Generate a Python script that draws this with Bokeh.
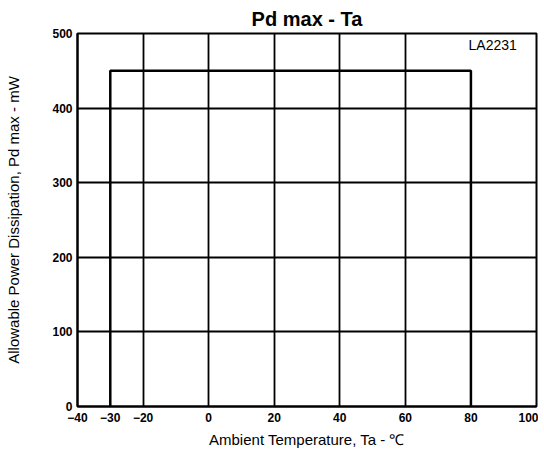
from bokeh.plotting import figure
from bokeh.models import FixedTicker, Range1d, Label
from bokeh.embed import file_html
from bokeh.resources import INLINE

# Data
ta = [-30, -30, 80, 80]
pd_max = [0, 450, 450, 0]
x_ticks = [-40, -30, -20, 0, 20, 40, 60, 80, 100]
y_ticks = [0, 100, 200, 300, 400, 500]
x_grid = [-20, 0, 20, 40, 60]
y_grid = [100, 200, 300, 400]
title_text = "Pd max - Ta"
device = "LA2231"
x_label = "Ambient Temperature, Ta - \u2103"
y_label = "Allowable Power Dissipation, Pd max - mW"

FONT = "Liberation Sans"

p = figure(width=538, height=450, output_backend="svg", toolbar_location=None,
           x_range=Range1d(-40, 100), y_range=Range1d(0, 500),
           min_border_left=77, min_border_right=2, min_border_top=33, min_border_bottom=44,
           title=title_text)
p.background_fill_color = "white"
p.border_fill_color = "white"
p.outline_line_color = "black"
p.outline_line_width = 2

p.title.align = "center"
p.title.text_font = FONT
p.title.text_font_size = "20px"
p.title.text_font_style = "bold"
p.title.text_color = "black"
p.title.standoff = 7
p.title.offset = 0

for ax in (p.xaxis[0], p.yaxis[0]):
    ax.major_tick_out = 0
    ax.major_tick_in = 0
    ax.minor_tick_out = 0
    ax.minor_tick_in = 0
    ax.axis_line_color = "black"
    ax.axis_line_width = 2
    ax.major_label_text_font = FONT
    ax.major_label_text_font_size = "12px"
    ax.major_label_text_font_style = "bold"
    ax.major_label_text_color = "black"
    ax.axis_label_text_font = FONT
    ax.axis_label_text_font_size = "15px"
    ax.axis_label_text_font_style = "normal"
    ax.axis_label_text_color = "black"

p.xaxis.ticker = FixedTicker(ticks=x_ticks)
p.yaxis.ticker = FixedTicker(ticks=y_ticks)
p.xaxis.major_label_standoff = 6
p.yaxis.major_label_standoff = 5
p.xaxis.axis_label = x_label
p.yaxis.axis_label = y_label
p.xaxis.axis_label_standoff = 6
p.yaxis.axis_label_standoff = 27

p.xgrid.ticker = FixedTicker(ticks=x_grid)
p.ygrid.ticker = FixedTicker(ticks=y_grid)
for g in (p.xgrid[0], p.ygrid[0]):
    g.grid_line_color = "black"
    g.grid_line_width = 1.8
    g.grid_line_alpha = 1.0

p.line(ta, pd_max, line_color="black", line_width=2.5)

p.add_layout(Label(x=94, y=484, text=device, text_align="right", text_baseline="middle",
                   text_font=FONT, text_font_size="14px", text_color="black"))

open("out.html", "w").write(file_html(p, INLINE))
